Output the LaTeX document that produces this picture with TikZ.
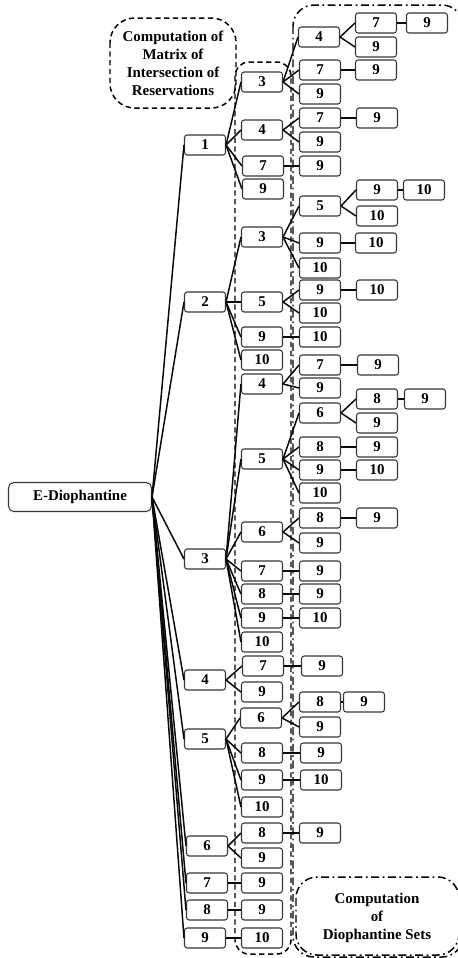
\documentclass[tikz,border=0pt]{standalone}
\usepackage{fontspec}
\setmainfont{Liberation Serif}
\usepackage{xcolor}
\usepackage{tikz}
\usetikzlibrary{positioning, arrows.meta}
\definecolor{BoxGray}{RGB}{55,55,55}
\definecolor{LinkBlack}{RGB}{10,10,10}
\tikzset{
  numbox/.style={draw=BoxGray, line width=0.6pt, fill=white, rounded corners=1.5pt,
    minimum width=0.82cm, minimum height=0.4cm, inner sep=0pt, font=\fontsize{8.5}{10}\selectfont\bfseries},
  rootbox/.style={numbox, rounded corners=3pt, minimum width=2.86cm, minimum height=0.58cm},
  link/.style={line width=0.85pt, LinkBlack},
  matrixzone/.style={line width=0.85pt, dash pattern=on 3pt off 2pt, rounded corners=8pt},
  setzone/.style={line width=0.85pt, dash pattern=on 4.5pt off 2pt on 1pt off 2pt, rounded corners=12pt},
  zonetxt/.style={align=center, font=\fontsize{8.5}{10.2}\selectfont\bfseries},
}

\begin{document}
\begin{tikzpicture}[x=0.02cm, y=-0.02cm]
  \useasboundingbox (0,0) rectangle (457,958);
  % zones
  \draw[setzone] (293,5) rectangle (463,957);
  \draw[setzone] (296,877) rectangle (459,955);
  \draw[matrixzone] (235,62) rectangle (291,954);
  \draw[matrixzone, rounded corners=14pt] (110,18) rectangle (236,108);
  \node[zonetxt] (matrixlab) at (173,63) {Computation of\\Matrix of\\Intersection of\\Reservations};
  \node[zonetxt] (setlab) at (377,918) {Computation\\of\\Diophantine Sets};

  \node[rootbox] (r) at (80,497) {E-Diophantine};

  % level 1
  \node[numbox] (t1) at (205,145) {1};
  \node[numbox] (t2) at (205,302) {2};
  \node[numbox] (t3) at (205,559) {3};
  \node[numbox] (t4) at (205,680) {4};
  \node[numbox] (t5) at (205,739) {5};
  \node[numbox] (t6) at (207,846) {6};
  \node[numbox] (t7) at (207,883) {7};
  \node[numbox] (t8) at (207,910) {8};
  \node[numbox] (t9) at (205,938) {9};
  \foreach \n in {1,...,9}
    \draw[link] (r.east) -- (t\n.west);

  % level 2
  \node[numbox] (t1-3) at (262,82) {3};
  \node[numbox] (t1-4) at (262,130) {4};
  \node[numbox] (t1-7) at (263,166) {7};
  \node[numbox] (t1-9) at (263,189) {9};
  \node[numbox] (t2-3) at (262,237) {3};
  \node[numbox] (t2-5) at (262,302) {5};
  \node[numbox] (t2-9) at (262,337) {9};
  \node[numbox] (t2-10) at (262,360) {10};
  \node[numbox] (t3-4) at (262,384) {4};
  \node[numbox] (t3-5) at (262,459) {5};
  \node[numbox] (t3-6) at (262,532) {6};
  \node[numbox] (t3-7) at (262,571) {7};
  \node[numbox] (t3-8) at (262,594) {8};
  \node[numbox] (t3-9) at (262,618) {9};
  \node[numbox] (t3-10) at (262,642) {10};
  \node[numbox] (t4-7) at (263,666) {7};
  \node[numbox] (t4-9) at (262,692) {9};
  \node[numbox] (t5-6) at (261,718) {6};
  \node[numbox] (t5-8) at (262,753) {8};
  \node[numbox] (t5-9) at (262,780) {9};
  \node[numbox] (t5-10) at (262,807) {10};
  \node[numbox] (t6-8) at (262,833) {8};
  \node[numbox] (t6-9) at (262,858) {9};
  \node[numbox] (t7-9) at (262,883) {9};
  \node[numbox] (t8-9) at (262,910) {9};
  \node[numbox] (t9-10) at (262,938) {10};

  % level 3
  \node[numbox] (t1-3-4) at (319,37) {4};
  \node[numbox] (t1-3-7) at (320,70) {7};
  \node[numbox] (t1-3-9) at (320,94) {9};
  \node[numbox] (t1-4-7) at (320,118) {7};
  \node[numbox] (t1-4-9) at (320,142) {9};
  \node[numbox] (t1-7-9) at (320,166) {9};
  \node[numbox] (t2-3-5) at (320,206) {5};
  \node[numbox] (t2-3-9) at (320,243) {9};
  \node[numbox] (t2-3-10) at (320,268) {10};
  \node[numbox] (t2-5-9) at (320,290) {9};
  \node[numbox] (t2-5-10) at (320,313) {10};
  \node[numbox] (t2-9-10) at (320,337) {10};
  \node[numbox] (t3-4-7) at (320,365) {7};
  \node[numbox] (t3-4-9) at (320,388) {9};
  \node[numbox] (t3-5-6) at (320,413) {6};
  \node[numbox] (t3-5-8) at (320,447) {8};
  \node[numbox] (t3-5-9) at (320,470) {9};
  \node[numbox] (t3-5-10) at (320,493) {10};
  \node[numbox] (t3-6-8) at (320,518) {8};
  \node[numbox] (t3-6-9) at (320,543) {9};
  \node[numbox] (t3-7-9) at (320,571) {9};
  \node[numbox] (t3-8-9) at (320,594) {9};
  \node[numbox] (t3-9-10) at (320,618) {10};
  \node[numbox] (t4-7-9) at (322,666) {9};
  \node[numbox] (t5-6-8) at (320,702) {8};
  \node[numbox] (t5-6-9) at (320,727) {9};
  \node[numbox] (t5-8-9) at (321,753) {9};
  \node[numbox] (t5-9-10) at (321,780) {10};
  \node[numbox] (t6-8-9) at (320,833) {9};

  % level 4 and 5
  \node[numbox] (t1-3-4-7) at (376,23) {7};
  \node[numbox] (t1-3-4-9) at (376,47) {9};
  \node[numbox] (t1-3-7-9) at (376,70) {9};
  \node[numbox] (t1-4-7-9) at (377,118) {9};
  \node[numbox] (t2-3-5-9) at (377,190) {9};
  \node[numbox] (t2-3-5-10) at (377,216) {10};
  \node[numbox] (t2-3-9-10) at (376,243) {10};
  \node[numbox] (t2-5-9-10) at (377,290) {10};
  \node[numbox] (t3-4-7-9) at (378,365) {9};
  \node[numbox] (t3-5-6-8) at (377,399) {8};
  \node[numbox] (t3-5-6-9) at (377,423) {9};
  \node[numbox] (t3-5-8-9) at (377,447) {9};
  \node[numbox] (t3-5-9-10) at (377,470) {10};
  \node[numbox] (t3-6-8-9) at (377,518) {9};
  \node[numbox] (t5-6-8-9) at (364,702) {9};
  \node[numbox] (t1-3-4-7-9) at (427,23) {9};
  \node[numbox] (t2-3-5-9-10) at (424,190) {10};
  \node[numbox] (t3-5-6-8-9) at (425,399) {9};

  \foreach \p/\c in {1/3,1/4,1/7,1/9,2/3,2/5,2/9,2/10,3/4,3/5,3/6,3/7,3/8,3/9,3/10,
      4/7,4/9,5/6,5/8,5/9,5/10,6/8,6/9,7/9,8/9,9/10,
      1-3/4,1-3/7,1-3/9,1-4/7,1-4/9,1-7/9,2-3/5,2-3/9,2-3/10,2-5/9,2-5/10,2-9/10,
      3-4/7,3-4/9,3-5/6,3-5/8,3-5/9,3-5/10,3-6/8,3-6/9,3-7/9,3-8/9,3-9/10,
      4-7/9,5-6/8,5-6/9,5-8/9,5-9/10,6-8/9,
      1-3-4/7,1-3-4/9,1-3-7/9,1-4-7/9,2-3-5/9,2-3-5/10,2-3-9/10,2-5-9/10,
      3-4-7/9,3-5-6/8,3-5-6/9,3-5-8/9,3-5-9/10,3-6-8/9,5-6-8/9,
      1-3-4-7/9,2-3-5-9/10,3-5-6-8/9}
    \draw[link] (t\p.east) -- (t\p-\c.west);
\end{tikzpicture}
\end{document}
